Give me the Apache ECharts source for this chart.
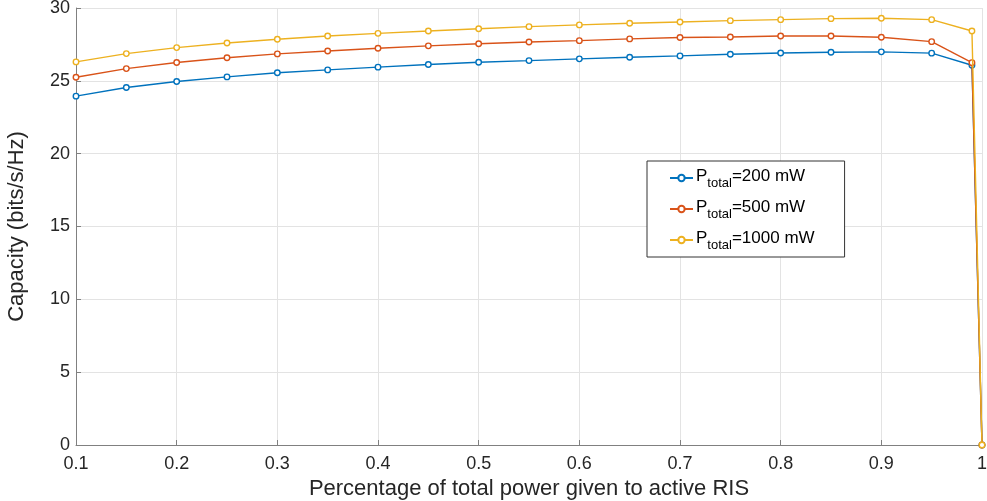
<!DOCTYPE html>
<html>
<head>
<meta charset="utf-8">
<script src="https://cdn.jsdelivr.net/npm/echarts@6/dist/echarts.min.js"></script>
<style>
html,body{margin:0;padding:0;background:#fff;}
#chart{width:987px;height:501px;}
</style>
</head>
<body>
<div id="chart"></div>
<script>
var xValues = [0.1,0.15,0.2,0.25,0.3,0.35,0.4,0.45,0.5,0.55,0.6,0.65,0.7,0.75,0.8,0.85,0.9,0.95,0.99,1.0];
var cap200  = [23.95,24.54,24.95,25.27,25.55,25.75,25.94,26.12,26.28,26.39,26.51,26.62,26.71,26.83,26.91,26.96,26.99,26.9,26.07,0];
var cap500  = [25.25,25.84,26.26,26.58,26.85,27.05,27.24,27.4,27.55,27.67,27.76,27.88,27.97,28.01,28.08,28.08,27.99,27.69,26.25,0];
var cap1000 = [26.3,26.87,27.28,27.6,27.85,28.08,28.26,28.42,28.58,28.72,28.84,28.95,29.04,29.13,29.2,29.27,29.3,29.2,28.42,0];
var seriesNames = ['200 mW','500 mW','1000 mW'];
var colors = ['#0072BD','#D95319','#EDB120'];

function pairs(ys){ return xValues.map(function(x,i){ return [x, ys[i]]; }); }

var FONT = 'Liberation Sans, Arial, Helvetica, sans-serif';
var chart = echarts.init(document.getElementById('chart'));
var allData = [cap200, cap500, cap1000];
var series = allData.map(function(d,i){
  return {
    name: seriesNames[i],
    type: 'line',
    data: pairs(d),
    symbol: 'circle',
    symbolSize: 5.5,
    showAllSymbol: true,
    lineStyle: {color: colors[i], width: 1.4},
    itemStyle: {color: '#ffffff', borderColor: colors[i], borderWidth: 1.4},
    emphasis: {disabled: true},
    animation: false,
    z: 2 + i
  };
});

chart.setOption({
  animation: false,
  backgroundColor: '#ffffff',
  grid: {left: 76, right: 5, top: 8, bottom: 56, containLabel: false, outerBoundsMode: 'none'},
  legend: {
    data: seriesNames,
    orient: 'vertical',
    left: 647, top: 161,
    padding: [5, 30, 5, 22],
    itemGap: 7,
    itemWidth: 23, itemHeight: 8,
    backgroundColor: '#ffffff',
    borderColor: '#333333',
    borderWidth: 1,
    borderRadius: 0,
    selectedMode: false,
    formatter: function(name){ return '{a|P}{b|total}{a|=' + name + '}'; },
    textStyle: {
      fontFamily: FONT,
      color: '#000',
      padding: [0,0,0,-2],
      rich: {
        a: {fontSize: 17, fontFamily: FONT, color: '#000', lineHeight: 24, verticalAlign: 'top', padding:[2,0,0,0]},
        b: {fontSize: 13, fontFamily: FONT, color: '#000', lineHeight: 24, verticalAlign: 'bottom', padding:[11,0,0,0]}
      }
    }
  },
  xAxis: {
    type: 'value',
    min: 0.1, max: 1, interval: 0.1,
    name: 'Percentage of total power given to active RIS',
    nameLocation: 'middle',
    nameGap: 32,
    nameTextStyle: {fontFamily: FONT, fontSize: 22, color: '#262626'},
    axisLine: {show: true, onZero: false, lineStyle: {color: '#808080', width: 1}},
    axisTick: {show: true, inside: true, length: 5, lineStyle: {color: '#808080'}},
    axisLabel: {fontFamily: FONT, fontSize: 18, color: '#262626', margin: 10,
      formatter: function(v){ return (Math.round(v*10)/10).toString(); }},
    splitLine: {show: true, lineStyle: {color: '#e3e3e3', width: 1}}
  },
  yAxis: {
    type: 'value',
    min: 0, max: 30, interval: 5,
    name: 'Capacity (bits/s/Hz)',
    nameLocation: 'middle',
    nameGap: 48,
    nameTextStyle: {fontFamily: FONT, fontSize: 22, color: '#262626'},
    axisLine: {show: true, lineStyle: {color: '#808080', width: 1}},
    axisTick: {show: true, inside: true, length: 5, lineStyle: {color: '#808080'}},
    axisLabel: {fontFamily: FONT, fontSize: 18, color: '#262626', margin: 6},
    splitLine: {show: true, lineStyle: {color: '#e3e3e3', width: 1}}
  },
  series: series
});
</script>
</body>
</html>
